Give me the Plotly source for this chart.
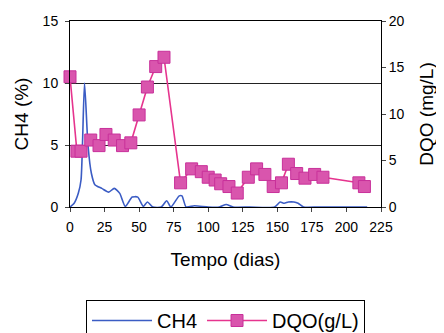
import plotly.graph_objects as go

ch4_days = [0, 3, 6, 8, 10.5, 13, 15.5, 18, 23, 28, 32, 36, 40, 45, 49, 53, 56, 60, 66, 70, 73, 79, 81, 84, 90, 100, 108, 113, 118, 130, 148, 152, 155, 158, 162, 165, 169, 180, 200, 215]
ch4_vals = [0, 0.3, 1.1, 2.2, 10, 5, 2.7, 1.8, 1.5, 1.2, 1.5, 1.1, 0.05, 0.8, 0.8, 0.05, 0.4, 0, 0, 0.5, 0, 0.9, 0.9, 0, 0.1, 0, 0, 0.2, 0, 0, 0, 0.4, 0.3, 0.4, 0.4, 0.3, 0, 0, 0, 0]

dqo_days = [0, 5, 8, 15, 21, 26, 32, 38, 44, 50, 56, 62, 68, 80, 88, 95, 100, 105, 109, 115, 121, 129, 135, 141, 147, 153, 158, 164, 170, 177, 183, 209, 213]
dqo_vals = [14, 6.0, 6.0, 7.2, 6.6, 7.8, 7.2, 6.6, 6.9, 9.9, 12.9, 15.1, 16.1, 2.6, 4.1, 3.8, 3.2, 2.9, 2.5, 2.2, 1.5, 3.2, 4.1, 3.5, 2.2, 2.6, 4.6, 3.6, 3.1, 3.5, 3.2, 2.6, 2.2]

x_ticks = [0, 25, 50, 75, 100, 125, 150, 175, 200, 225]
y1_ticks = [0, 5, 10, 15]
y2_ticks = [0, 5, 10, 15, 20]

font = "Liberation Sans, Arial, sans-serif"

fig = go.Figure()
fig.add_trace(go.Scatter(
    x=ch4_days, y=ch4_vals, name="CH4", mode="lines",
    line=dict(color="#3b5cc4", width=1.6, shape="spline", smoothing=0.6),
    yaxis="y", cliponaxis=True))
fig.add_trace(go.Scatter(
    x=dqo_days, y=dqo_vals, name="DQO(g/L)", mode="lines+markers",
    line=dict(color="#e6348e", width=1.6),
    marker=dict(symbol="square", size=12, color="#d955ad",
                line=dict(color="#c8309a", width=1)),
    yaxis="y2", cliponaxis=False))

# page body has an 8px default margin, so the figure is sized to fit the window
fig.update_layout(
    width=436, height=325,
    margin=dict(l=62, r=63, t=13, b=126, autoexpand=False),
    paper_bgcolor="white", plot_bgcolor="white",
    font=dict(family=font, size=14, color="black"),
    showlegend=True,
    legend=dict(orientation="h", x=0.5, xanchor="center", y=-0.5, yanchor="top",
                bordercolor="black", borderwidth=1, font=dict(size=20),
                bgcolor="white", itemwidth=60, tracegroupgap=0),
    xaxis=dict(range=[0, 225], tickvals=x_ticks, ticks="outside", ticklen=4,
               showline=True, linecolor="black", linewidth=1, mirror=True,
               showgrid=False, zeroline=False, automargin=False,
               ticklabelstandoff=3,
               title=dict(text="Tempo (dias)", font=dict(size=19), standoff=18)),
    yaxis=dict(range=[0, 15], tickvals=y1_ticks, ticks="outside", ticklen=4,
               showline=True, linecolor="black", linewidth=1, automargin=False,
               showgrid=True, gridcolor="#222222", gridwidth=1, zeroline=False,
               ticklabelstandoff=4,
               title=dict(text="CH4 (%)", font=dict(size=19), standoff=8)),
    yaxis2=dict(range=[0, 20], tickvals=y2_ticks, ticks="outside", ticklen=4,
                overlaying="y", side="right", automargin=False,
                showline=True, linecolor="black", linewidth=1,
                showgrid=False, zeroline=False,
                title=dict(text="DQO (mg/L)", font=dict(size=19), standoff=16)),
)

fig.write_html("out.html")
